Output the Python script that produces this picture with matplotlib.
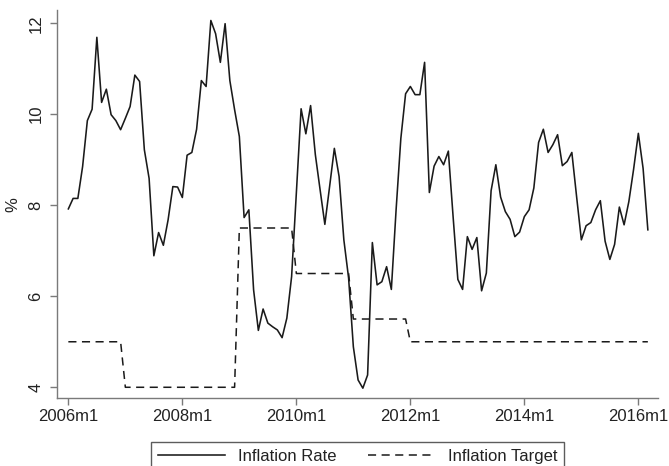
import numpy as np
import matplotlib
matplotlib.use("Agg")
import matplotlib.pyplot as plt

plt.rcParams["font.family"] = ["Liberation Sans", "DejaVu Sans"]

# monthly inflation, 2006m1 .. 2016m3
inflation = [
    7.92, 8.15, 8.15, 8.85, 9.86, 10.11, 11.69, 10.26, 10.55, 9.99, 9.86, 9.66,
    9.91, 10.17, 10.86, 10.72, 9.22, 8.59, 6.89, 7.40, 7.12, 7.68, 8.41, 8.40,
    8.17, 9.10, 9.16, 9.67, 10.74, 10.61, 12.06, 11.77, 11.14, 11.99, 10.74, 10.10,
    9.51, 7.73, 7.90, 6.14, 5.25, 5.72, 5.41, 5.33, 5.26, 5.09, 5.52, 6.43,
    8.27, 10.12, 9.57, 10.19, 9.11, 8.34, 7.58, 8.41, 9.25, 8.63, 7.24, 6.40,
    4.89, 4.16, 3.98, 4.27, 7.18, 6.25, 6.32, 6.65, 6.15, 7.90, 9.47, 10.45,
    10.61, 10.43, 10.43, 11.14, 8.28, 8.86, 9.07, 8.89, 9.19, 7.75, 6.37, 6.15,
    7.31, 7.03, 7.29, 6.12, 6.51, 8.32, 8.89, 8.18, 7.86, 7.69, 7.31, 7.41,
    7.75, 7.90, 8.38, 9.38, 9.67, 9.16, 9.33, 9.55, 8.87, 8.96, 9.16, 8.19,
    7.24, 7.55, 7.62, 7.90, 8.10, 7.21, 6.81, 7.14, 7.96, 7.57, 8.08, 8.79,
    9.58, 8.81, 7.46,
]

# inflation target: level and number of months it applies
target_levels = [5.0, 4.0, 7.5, 6.5, 5.5, 5.0]
target_months = [12, 24, 12, 12, 12, 51]

tick_months = [0, 24, 48, 72, 96, 120]
tick_labels = ["2006m1", "2008m1", "2010m1", "2012m1", "2014m1", "2016m1"]
y_ticks = [4, 6, 8, 10, 12]

t = np.arange(len(inflation))
target = np.repeat(target_levels, target_months)

fig = plt.figure(figsize=(6.69, 4.66), dpi=100)
ax = fig.add_axes([0.0857, 0.1453, 0.8983, 0.8332])

ax.plot(t, inflation, color="#1a1a1a", lw=1.15, label="Inflation Rate")
ax.plot(t, target, color="#1a1a1a", lw=1.1, dashes=(5.3, 3.6),
        label="Inflation Target")

ax.set_xlim(-2.32, 124.2)
ax.set_ylim(3.758, 12.29)
ax.set_xticks(tick_months)
ax.set_xticklabels(tick_labels)
ax.set_yticks(y_ticks)
ax.set_yticklabels([str(v) for v in y_ticks], rotation=90, va="center")
ax.set_ylabel("%", fontsize=12, color="#222222", labelpad=6)

for s in ["top", "right"]:
    ax.spines[s].set_visible(False)
for s in ["left", "bottom"]:
    ax.spines[s].set_color("#7a7a7a")
    ax.spines[s].set_linewidth(1.0)
ax.tick_params(axis="both", colors="#7a7a7a", labelcolor="#222222",
               labelsize=12, length=5, width=1.0)
ax.tick_params(axis="x", pad=3)
ax.tick_params(axis="y", pad=5)

leg = fig.legend(loc="upper center", bbox_to_anchor=(0.535, 0.069), ncol=2,
                 fontsize=12, frameon=True, fancybox=False, handlelength=4.0,
                 handletextpad=0.8, columnspacing=1.9, borderpad=0.4)
leg.get_frame().set_edgecolor("#333333")
leg.get_frame().set_linewidth(1.0)
for txt in leg.get_texts():
    txt.set_color("#222222")

fig.savefig("out.png", dpi=100)
